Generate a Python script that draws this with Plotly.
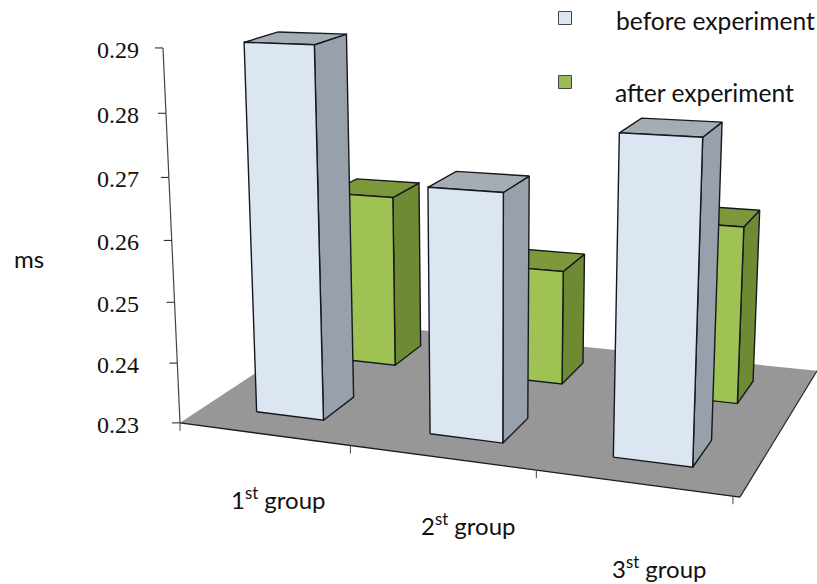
import numpy as np
import plotly.graph_objects as go

categories = ["1<sup>st</sup> group", "2<sup>st</sup> group", "3<sup>st</sup> group"]
before_experiment = [0.2899, 0.2691, 0.2789]
after_experiment = [0.2598, 0.2494, 0.2591]
value_ticks = [0.23, 0.24, 0.25, 0.26, 0.27, 0.28, 0.29]
series_names = ["before experiment", "after experiment"]
y_title = "ms"

V_MIN, V_MAX = 0.23, 0.29

# camera of the pseudo-3D scene: (u along categories, v depth, h height) -> page pixels
anchors = [((0, 0, 0), (180, 423)), ((1, 0, 0), (740, 497)), ((1, 1, 0), (817, 371)),
           ((0, 1, 0), (334, 321)), ((0, 0, 1), (163, 48)), ((1, 0, 1), (756, 70))]
rows = []
for (u, v, h), (x, y) in anchors:
    rows.append([u, v, h, 1, 0, 0, 0, 0, -x*u, -x*v, -x*h, -x])
    rows.append([0, 0, 0, 0, u, v, h, 1, -y*u, -y*v, -y*h, -y])
CAM = np.linalg.svd(np.array(rows, float))[2][-1].reshape(3, 4)


def proj(u, v, val):
    h = (val - V_MIN) / (V_MAX - V_MIN)
    p = CAM @ np.array([u, v, h, 1.0])
    return p[0] / p[2], p[1] / p[2]


def poly(points, fill, name, line="#15181f", width=1.4, show_line=True):
    pts = [proj(*p) for p in points] + [proj(*points[0])]
    return go.Scatter(
        x=[p[0] for p in pts], y=[p[1] for p in pts], mode="lines", fill="toself",
        fillcolor=fill, name=name, hoverinfo="name", showlegend=False,
        line=dict(color=line if show_line else fill, width=width if show_line else 0))


def edge(p0, p1, color, width, name):
    a, b = proj(*p0), proj(*p1)
    return go.Scatter(x=[a[0], b[0]], y=[a[1], b[1]], mode="lines", name=name, hoverinfo="skip",
                      showlegend=False, line=dict(color=color, width=width))


fig = go.Figure()
# floor
fig.add_trace(poly([(0, 0, V_MIN), (1, 0, V_MIN), (1, 1, V_MIN), (0, 1, V_MIN)], "#979797", "floor", show_line=False))
fig.add_trace(edge((0, 0, V_MIN), (1, 0, V_MIN), "#1b1b1b", 1.4, "category axis"))
fig.add_trace(edge((1, 0, V_MIN), (1, 1, V_MIN), "#2a2a2a", 1.2, "floor edge"))

# category ticks
for tu in [0, 1 / 3, 2 / 3, 0.989]:
    x, y = proj(tu, 0, V_MIN)
    fig.add_trace(go.Scatter(x=[x, x], y=[y, y + 8], mode="lines", hoverinfo="skip", showlegend=False,
                             line=dict(color="#555555", width=1.1)))

# value axis
fig.add_trace(edge((0, 0, V_MIN), (0, 0, V_MAX), "#444444", 1.2, "value axis"))
for t in value_ticks:
    x, y = proj(0, 0, t)
    fig.add_trace(go.Scatter(x=[x - 8, x], y=[y, y], mode="lines", hoverinfo="skip", showlegend=False,
                             line=dict(color="#333333", width=1.1)))
    fig.add_annotation(x=141, y=y + 2, text=f"{t:.2f}", showarrow=False, xanchor="right", yanchor="middle",
                       font=dict(family="Liberation Serif, Times New Roman, serif", size=24, color="#111111"))

SLOT = 1 / 3
BAR_LO, BAR_HI = 0.30, 0.70
SLOT_SHIFT = [0.003, 0.007, 0.001]
styles = [
    dict(values=before_experiment, depth=(0.15, 0.35), front="#dce6f2", side="#98a0ac", top="#a5acb4"),
    dict(values=after_experiment, depth=(0.65, 0.85), front="#9fc254", side="#6e8a33", top="#7d983b"),
]
# back row first so that the front row covers it
for name, st in reversed(list(zip(series_names, styles))):
    v0, v1 = st["depth"]
    for i, val in enumerate(st["values"]):
        u0, u1 = (i + BAR_LO) * SLOT + SLOT_SHIFT[i], (i + BAR_HI) * SLOT + SLOT_SHIFT[i]
        fig.add_trace(poly([(u1, v0, V_MIN), (u1, v1, V_MIN), (u1, v1, val), (u1, v0, val)], st["side"], name))
        fig.add_trace(poly([(u0, v0, val), (u1, v0, val), (u1, v1, val), (u0, v1, val)], st["top"], name))
        fig.add_trace(poly([(u0, v0, V_MIN), (u1, v0, V_MIN), (u1, v0, val), (u0, v0, val)], st["front"], name))

# legend keys
for name, col, ky in zip(series_names, ["#dce6f2", "#9bbb59"], [18, 82]):
    fig.add_trace(go.Scatter(x=[565], y=[ky], mode="markers", name=name, hoverinfo="name", showlegend=False,
                             marker=dict(symbol="square", size=13, color=col, line=dict(color="#444444", width=1))))

FONT = dict(family="Lato", size=24, color="#111111")
LEGEND_FONT = dict(family="Lato", size=24.6, color="#111111")
for name, lx, ly in zip(series_names, [614, 613], [20, 92]):
    fig.add_annotation(x=lx, y=ly, text=name, showarrow=False, xanchor="left", yanchor="middle", font=LEGEND_FONT)
for cat, lx, ly in zip(categories, [278, 468, 659], [498, 524, 567]):
    fig.add_annotation(x=lx, y=ly, text=cat, showarrow=False, xanchor="center", yanchor="middle", font=FONT)
fig.add_annotation(x=29, y=258, text=y_title, showarrow=False, xanchor="center", yanchor="middle", font=FONT)

fig.update_layout(
    width=817, height=584, margin=dict(l=0, r=0, t=0, b=0), autosize=False,
    paper_bgcolor="white", plot_bgcolor="white", showlegend=False,
    xaxis=dict(range=[0, 817], visible=False, fixedrange=True),
    yaxis=dict(range=[584, 0], visible=False, fixedrange=True),
)
fig.write_html("out.html", config={"displayModeBar": False},
               post_script="document.body.style.margin='0';document.body.style.overflow='hidden';")
